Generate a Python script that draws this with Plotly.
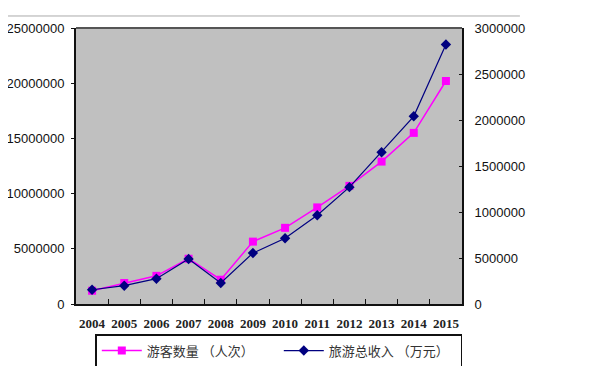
import plotly.graph_objects as go

years = ["2004", "2005", "2006", "2007", "2008", "2009", "2010", "2011", "2012", "2013", "2014", "2015"]
visitors = [1200000, 1900000, 2550000, 4100000, 2200000, 5650000, 6900000, 8750000, 10700000, 12900000, 15500000, 20200000]
revenue = [155000, 199000, 275000, 489000, 228000, 554000, 714000, 964000, 1270000, 1650000, 2040000, 2820000]

name_visitors = "游客数量 （人次）"
name_revenue = "旅游总收入 （万元）"

left_ticks = [0, 5000000, 10000000, 15000000, 20000000, 25000000]
right_ticks = [0, 500000, 1000000, 1500000, 2000000, 2500000, 3000000]

fig = go.Figure()
fig.add_trace(go.Scatter(
    x=years, y=visitors, name=name_visitors, mode="lines+markers",
    line=dict(color="#ff00ff", width=1.5),
    marker=dict(symbol="square", size=8, color="#ff00ff"),
    yaxis="y",
))
fig.add_trace(go.Scatter(
    x=years, y=revenue, name=name_revenue, mode="lines+markers",
    line=dict(color="#000080", width=1.2),
    marker=dict(symbol="diamond", size=8, color="#000080"),
    yaxis="y2",
))

fig.update_layout(
    width=592, height=358,
    margin=dict(l=68, r=138, t=20, b=62, autoexpand=False),
    paper_bgcolor="white",
    plot_bgcolor="#c0c0c0",
    showlegend=True,
    legend=dict(
        orientation="h", x=0.05, y=-0.109, xanchor="left", yanchor="top",
        bordercolor="#111111", borderwidth=1.5, bgcolor="white",
        font=dict(family="Noto Sans CJK SC", size=13, color="#333333"),
        entrywidth=127, itemwidth=40, tracegroupgap=0,
    ),
    xaxis=dict(
        type="category", range=[-0.5, len(years) - 0.5],
        tickson="boundaries", ticks="inside", ticklen=5,
        tickcolor="#111111", showline=True, linecolor="#111111", linewidth=2,
        mirror=False, showgrid=False, tickangle=0, automargin=False,
        ticklabelstandoff=6,
        tickfont=dict(family="Liberation Serif", size=13, color="#222222", weight="bold"),
    ),
    yaxis=dict(
        range=[0, 25000000], tickvals=left_ticks, ticktext=[str(v) for v in left_ticks],
        showgrid=False, zeroline=False, showline=True, linecolor="#111111", linewidth=2,
        ticks="outside", ticklen=3, tickcolor="#111111", automargin=False,
        ticklabelstandoff=4,
        tickfont=dict(family="Liberation Sans", size=13, color="#111111"),
    ),
    yaxis2=dict(
        range=[0, 3000000], tickvals=right_ticks, ticktext=[str(v) for v in right_ticks],
        overlaying="y", side="right", automargin=False,
        showgrid=False, zeroline=False, showline=True, linecolor="#111111", linewidth=2,
        ticks="inside", ticklen=3, tickcolor="#111111",
        ticklabelstandoff=8,
        tickfont=dict(family="Liberation Sans", size=13, color="#111111"),
    ),
    shapes=[
        dict(type="line", xref="paper", yref="paper", x0=0, x1=1, y0=1, y1=1,
             line=dict(color="#555555", width=2)),
        dict(type="line", xref="paper", yref="paper", x0=-0.179, x1=1.15, y0=1.0435, y1=1.0435,
             line=dict(color="#aaaaaa", width=1)),
    ],
)

fig.write_html("out.html")
